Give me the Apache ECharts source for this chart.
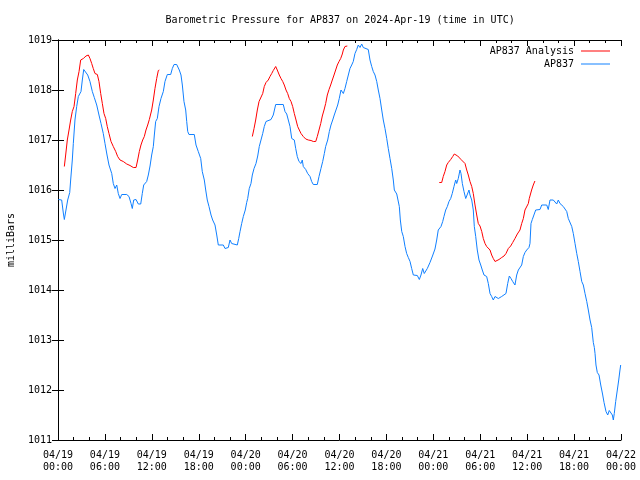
<!DOCTYPE html>
<html><head><meta charset="utf-8">
<script src="https://cdn.jsdelivr.net/npm/echarts/dist/echarts.min.js"></script>
<style>html,body{margin:0;padding:0;background:#fff}#c{width:640px;height:480px}</style>
</head><body><div id="c"></div>
<script>
const titleText = 'Barometric Pressure for AP837 on 2024-Apr-19 (time in UTC)';
const yAxisName = 'milliBars';
const seriesNames = ['AP837 Analysis', 'AP837'];
const xMin = 0, xMax = 72, xStep = 6;   // hours since 04/19 00:00
const yMin = 1011, yMax = 1019, yStep = 1;

// AP837 observations: hours since 04/19 00:00 UTC and pressure (mb)
const stationHours = [0.04,0.47,0.68,0.81,1.02,1.24,1.50,1.62,1.83,1.96,2.17,2.39,2.60,2.94,3.11,3.29,3.54,3.80,4.09,4.39,4.64,4.95,5.24,5.50,5.79,6.01,6.27,6.52,6.87,7.07,7.29,7.51,7.71,7.93,8.15,8.79,9.08,9.34,9.50,9.68,9.98,10.27,10.58,10.78,10.96,11.34,11.55,11.77,11.98,12.19,12.32,12.49,12.70,12.92,13.17,13.47,13.68,13.98,14.41,14.62,14.84,15.18,15.51,15.73,15.90,16.11,16.33,16.46,16.59,16.75,17.43,17.65,17.94,18.25,18.45,18.71,18.89,19.09,19.31,19.57,19.78,20.08,20.30,20.50,21.14,21.36,21.58,21.78,22.00,22.21,22.42,22.93,23.11,23.28,23.49,23.70,23.95,24.13,24.26,24.46,24.68,24.85,25.07,25.32,25.54,25.74,25.96,26.18,26.38,26.60,26.82,27.24,27.53,27.84,28.81,29.03,29.25,29.45,29.67,29.89,30.22,30.40,30.60,30.82,31.08,31.24,31.37,31.68,31.93,32.23,32.44,32.65,33.16,33.38,33.63,33.85,34.06,34.23,34.49,34.70,34.91,35.13,35.33,35.55,35.77,35.97,36.19,36.49,36.70,36.92,37.13,37.34,37.56,37.76,37.98,38.20,38.40,38.62,38.84,39.04,39.26,39.68,39.90,40.12,40.32,40.54,40.76,40.96,41.18,41.40,41.60,41.82,42.04,42.24,42.46,42.68,42.88,43.01,43.32,43.57,43.65,43.78,43.96,44.16,44.38,44.59,44.80,45.02,45.23,45.44,45.95,46.21,46.42,46.64,46.84,47.06,47.23,47.57,47.89,48.21,48.43,48.63,48.98,49.20,49.36,49.58,49.79,50.00,50.22,50.42,50.64,50.86,50.99,51.19,51.41,51.54,51.71,51.92,52.14,52.34,52.56,52.69,52.91,53.11,53.24,53.42,53.62,53.84,54.06,54.26,54.48,54.82,55.03,55.25,55.46,55.67,55.89,56.10,56.31,56.53,56.74,56.95,57.29,57.51,57.72,57.93,58.15,58.44,58.66,58.87,59.08,59.30,59.51,59.72,59.94,60.23,60.36,60.49,60.66,60.87,61.09,61.30,61.64,61.86,62.07,62.50,62.70,62.92,63.34,63.56,63.78,63.98,64.20,64.42,64.62,64.84,65.06,65.26,65.48,65.70,65.90,66.12,66.34,66.54,66.76,66.98,67.18,67.40,67.62,67.82,68.04,68.25,68.46,68.59,68.68,68.80,68.97,69.19,69.41,69.64,69.83,70.08,70.30,70.50,70.72,70.89,71.02,71.14,71.32,71.53,71.71,71.87,71.96];
const stationPressure = [1015.81,1015.80,1015.54,1015.41,1015.60,1015.80,1015.95,1016.20,1016.60,1016.93,1017.40,1017.67,1017.87,1017.97,1018.20,1018.41,1018.39,1018.30,1018.17,1017.97,1017.85,1017.70,1017.50,1017.33,1017.13,1016.93,1016.70,1016.50,1016.33,1016.13,1016.03,1016.10,1015.93,1015.83,1015.91,1015.91,1015.87,1015.73,1015.63,1015.80,1015.81,1015.72,1015.72,1015.93,1016.10,1016.17,1016.30,1016.48,1016.70,1016.87,1017.10,1017.37,1017.43,1017.67,1017.83,1017.97,1018.17,1018.31,1018.31,1018.43,1018.51,1018.51,1018.40,1018.30,1018.10,1017.77,1017.60,1017.37,1017.17,1017.11,1017.11,1016.90,1016.77,1016.63,1016.37,1016.20,1016.00,1015.80,1015.67,1015.50,1015.40,1015.30,1015.10,1014.90,1014.90,1014.83,1014.80,1014.85,1015.00,1014.93,1014.90,1014.90,1015.03,1015.17,1015.33,1015.47,1015.60,1015.75,1015.83,1016.03,1016.13,1016.30,1016.43,1016.53,1016.68,1016.87,1017.00,1017.13,1017.27,1017.37,1017.41,1017.41,1017.50,1017.71,1017.71,1017.57,1017.52,1017.48,1017.27,1017.03,1017.00,1016.83,1016.67,1016.57,1016.53,1016.60,1016.47,1016.41,1016.33,1016.27,1016.17,1016.11,1016.11,1016.27,1016.43,1016.57,1016.73,1016.87,1017.00,1017.17,1017.30,1017.40,1017.50,1017.60,1017.70,1017.83,1018.00,1017.93,1018.03,1018.17,1018.30,1018.43,1018.50,1018.57,1018.73,1018.81,1018.90,1018.85,1018.92,1018.85,1018.81,1018.81,1018.60,1018.47,1018.37,1018.30,1018.17,1018.00,1017.83,1017.60,1017.40,1017.23,1017.03,1016.83,1016.63,1016.43,1016.20,1016.00,1015.92,1015.92,1015.67,1015.40,1015.17,1015.07,1014.87,1014.73,1014.65,1014.57,1014.43,1014.30,1014.29,1014.21,1014.30,1014.43,1014.33,1014.33,1014.43,1014.55,1014.68,1014.82,1015.00,1015.20,1015.27,1015.37,1015.47,1015.60,1015.67,1015.77,1015.83,1015.93,1016.07,1016.20,1016.13,1016.23,1016.40,1016.33,1016.13,1015.97,1015.83,1015.87,1016.00,1015.90,1015.80,1015.60,1015.27,1015.07,1014.80,1014.60,1014.50,1014.40,1014.30,1014.27,1014.13,1013.93,1013.87,1013.80,1013.87,1013.90,1013.83,1013.80,1013.87,1013.90,1013.93,1014.13,1014.28,1014.23,1014.17,1014.10,1014.30,1014.40,1014.37,1014.50,1014.67,1014.75,1014.80,1014.85,1014.93,1015.33,1015.41,1015.45,1015.60,1015.61,1015.61,1015.70,1015.71,1015.70,1015.61,1015.80,1015.80,1015.77,1015.72,1015.80,1015.73,1015.70,1015.67,1015.63,1015.57,1015.43,1015.39,1015.27,1015.13,1014.93,1014.73,1014.57,1014.37,1014.17,1014.10,1013.93,1013.77,1013.60,1013.40,1013.25,1012.95,1012.85,1012.73,1012.50,1012.35,1012.30,1012.10,1011.92,1011.75,1011.57,1011.50,1011.59,1011.60,1011.50,1011.40,1011.53,1011.77,1012.00,1012.20,1012.40,1012.50];

// AP837 Analysis: three 12-hour runs
const analysisRun1Hours = [0.81,0.98,1.19,1.41,1.62,1.83,2.05,2.26,2.47,2.69,2.90,3.24,3.58,3.88,4.09,4.31,4.51,4.73,5.03,5.24,5.46,5.67,5.88,6.10,6.30,6.52,6.78,7.07,7.38,7.63,7.93,8.35,8.79,9.21,9.63,9.98,10.19,10.40,10.61,10.83,11.04,11.25,11.47,11.68,11.98,12.19,12.40,12.62,12.83,12.96];
const analysisRun1Pressure = [1016.47,1016.70,1017.00,1017.20,1017.40,1017.57,1017.67,1017.93,1018.20,1018.37,1018.60,1018.63,1018.68,1018.70,1018.63,1018.53,1018.43,1018.33,1018.31,1018.17,1017.93,1017.73,1017.53,1017.43,1017.27,1017.13,1016.97,1016.87,1016.77,1016.67,1016.60,1016.57,1016.52,1016.49,1016.45,1016.45,1016.60,1016.77,1016.90,1017.00,1017.07,1017.20,1017.30,1017.41,1017.60,1017.80,1018.03,1018.23,1018.39,1018.40];
const analysisRun2Hours = [24.85,25.07,25.28,25.49,25.71,25.96,26.18,26.38,26.60,26.89,27.11,27.33,27.53,27.84,28.04,28.30,28.52,28.74,28.94,29.16,29.37,29.58,29.80,30.01,30.22,30.44,30.65,30.86,31.08,31.37,31.68,32.01,32.36,32.65,32.96,33.16,33.38,33.60,33.80,34.02,34.23,34.44,34.66,34.87,35.08,35.30,35.51,35.72,35.94,36.15,36.36,36.49,36.70,37.00];
const analysisRun2Pressure = [1017.07,1017.23,1017.40,1017.60,1017.77,1017.81,1017.93,1018.07,1018.15,1018.20,1018.27,1018.33,1018.39,1018.47,1018.40,1018.30,1018.23,1018.17,1018.10,1018.00,1017.93,1017.83,1017.77,1017.67,1017.53,1017.40,1017.27,1017.20,1017.13,1017.07,1017.02,1017.00,1016.99,1016.97,1016.97,1017.07,1017.20,1017.33,1017.48,1017.60,1017.73,1017.90,1018.01,1018.10,1018.20,1018.30,1018.40,1018.50,1018.57,1018.63,1018.72,1018.80,1018.87,1018.88];
const analysisRun3Hours = [48.76,49.07,49.27,49.49,49.71,49.91,50.22,50.48,50.68,50.90,51.12,51.32,51.54,51.76,52.05,52.27,52.47,52.69,52.91,53.11,53.33,53.55,53.75,53.97,54.19,54.39,54.61,54.82,55.03,55.25,55.46,55.67,55.89,56.10,56.40,56.74,57.04,57.29,57.59,57.89,58.15,58.44,58.74,59.08,59.30,59.51,59.72,59.94,60.15,60.27,60.57,60.78,60.99];
const analysisRun3Pressure = [1016.15,1016.15,1016.27,1016.37,1016.50,1016.55,1016.61,1016.67,1016.72,1016.73,1016.68,1016.65,1016.61,1016.57,1016.53,1016.40,1016.30,1016.17,1016.07,1015.93,1015.70,1015.50,1015.33,1015.28,1015.17,1015.03,1014.93,1014.87,1014.85,1014.80,1014.70,1014.63,1014.57,1014.59,1014.61,1014.65,1014.68,1014.73,1014.83,1014.88,1014.95,1015.03,1015.12,1015.20,1015.33,1015.43,1015.60,1015.63,1015.73,1015.83,1016.00,1016.10,1016.18];

const FONT = 'DejaVu Sans Mono';
const RED = '#ff0000', BLUE = '#1080ff';
const zip = (a, b) => a.map((v, i) => [v, b[i]]);
const analysisRuns = [
  zip(analysisRun1Hours, analysisRun1Pressure),
  zip(analysisRun2Hours, analysisRun2Pressure),
  zip(analysisRun3Hours, analysisRun3Pressure)
];

function xLabel(h) {
  const day = 19 + Math.floor(h / 24);
  const hh = h % 24;
  return '04/' + day + '\n' + String(hh).padStart(2, '0') + ':00';
}

const chart = echarts.init(document.getElementById('c'), null, {renderer: 'canvas'});
const axisLineStyle = {color: '#000', width: 1};
const series = analysisRuns.map(run => ({
  name: seriesNames[0], type: 'line', xAxisIndex: 0, yAxisIndex: 0,
  data: run, showSymbol: false, symbol: 'none', z: 3,
  lineStyle: {color: RED, width: 1}, itemStyle: {color: RED}
}));
series.push({
  name: seriesNames[1], type: 'line', xAxisIndex: 0, yAxisIndex: 0,
  data: zip(stationHours, stationPressure), showSymbol: false, symbol: 'none', z: 2,
  lineStyle: {color: BLUE, width: 1}, itemStyle: {color: BLUE}
});

chart.setOption({
  animation: false,
  backgroundColor: '#fff',
  textStyle: {fontFamily: FONT},
  graphic: [{
    type: 'text', left: 339.5 - 174, top: 15,
    style: {text: titleText, font: '10px "' + FONT + '"', fill: '#000'}
  }],
  legend: [{
    data: [seriesNames[0]], right: 25, top: 41, orient: 'vertical', align: 'right',
    icon: 'rect', itemWidth: 29, itemHeight: 1, itemGap: 0,
    textStyle: {fontFamily: FONT, fontSize: 10, color: '#000', padding: [0, 2, 0, 0]}
  }, {
    data: [seriesNames[1]], right: 25, top: 54, orient: 'vertical', align: 'right',
    icon: 'rect', itemWidth: 29, itemHeight: 1, itemGap: 0,
    textStyle: {fontFamily: FONT, fontSize: 10, color: '#000', padding: [0, 2, 0, 0]}
  }],
  grid: {left: 58, right: 19, top: 40, bottom: 40, containLabel: false, outerBoundsMode: 'none'},
  xAxis: [{
    type: 'value', min: xMin, max: xMax, interval: xStep, position: 'bottom',
    axisLine: {show: true, lineStyle: axisLineStyle},
    axisTick: {show: true, inside: true, length: 6, lineStyle: axisLineStyle},
    minorTick: {show: true, splitNumber: 3, length: 3, lineStyle: axisLineStyle},
    splitLine: {show: false},
    axisLabel: {formatter: xLabel, fontFamily: FONT, fontSize: 10, color: '#000', lineHeight: 12, margin: 9}
  }, {
    type: 'value', min: xMin, max: xMax, interval: xStep, position: 'top',
    axisLine: {show: true, lineStyle: axisLineStyle},
    axisTick: {show: true, inside: true, length: 6, lineStyle: axisLineStyle},
    minorTick: {show: true, splitNumber: 3, length: 3, lineStyle: axisLineStyle},
    splitLine: {show: false}, axisLabel: {show: false}
  }],
  yAxis: [{
    type: 'value', min: yMin, max: yMax, interval: yStep, position: 'left',
    name: yAxisName, nameLocation: 'middle', nameGap: 42, nameRotate: 90,
    nameTextStyle: {fontFamily: FONT, fontSize: 10, color: '#000'},
    axisLine: {show: true, lineStyle: axisLineStyle},
    axisTick: {show: true, inside: true, length: 6, lineStyle: axisLineStyle},
    splitLine: {show: false},
    axisLabel: {formatter: v => String(v), fontFamily: FONT, fontSize: 10, color: '#000', margin: 6}
  }, {
    type: 'value', min: yMin, max: yMax, interval: yStep, position: 'right',
    axisLine: {show: true, lineStyle: axisLineStyle},
    axisTick: {show: true, inside: true, length: 6, lineStyle: axisLineStyle},
    splitLine: {show: false}, axisLabel: {show: false}
  }],
  series: series
});
</script>
</body></html>
